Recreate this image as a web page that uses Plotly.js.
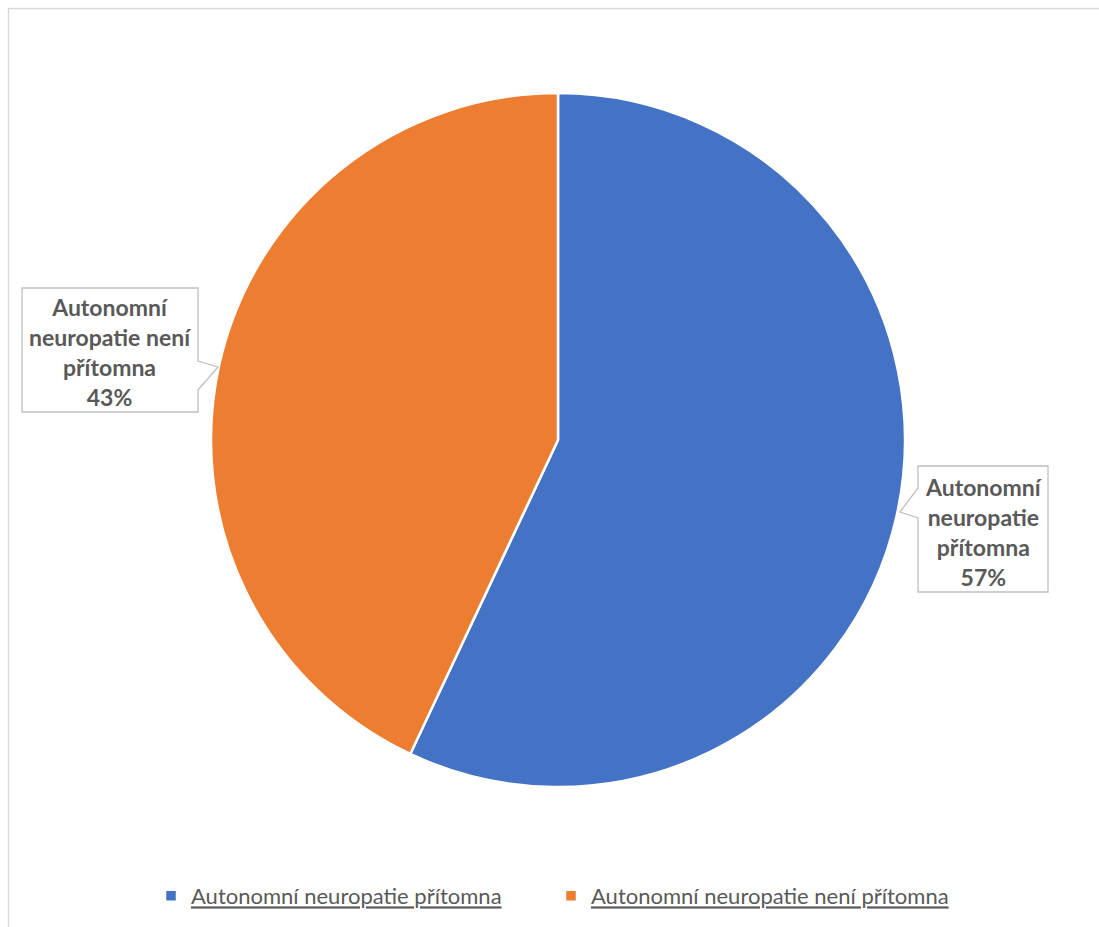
<!DOCTYPE html>
<html>
<head>
<meta charset="utf-8">
<script src="https://cdn.plot.ly/plotly-3.0.1.min.js"></script>
<style>html,body{margin:0;padding:0;background:#fff;}#chart{width:1099px;height:927px;}</style>
</head>
<body>
<div id="chart"></div>
<script>
const categories = ["Autonomní neuropatie přítomna", "Autonomní neuropatie není přítomna"];
const values = [57, 43];
const percentLabels = ["57%", "43%"];
const callouts = ["Autonomní<br>neuropatie<br>přítomna<br>57%", "Autonomní<br>neuropatie není<br>přítomna<br>43%"];
const colors = ["#4472C4", "#ED7D31"];

const W = 1099, H = 927;
const px = x => x / W;
const py = y => 1 - y / H;
function path(pts) {
  return "M" + pts.map(p => px(p[0]).toFixed(5) + "," + py(p[1]).toFixed(5)).join(" L") + " Z";
}

const trace = {
  type: "pie",
  labels: categories,
  values: values,
  sort: false,
  direction: "clockwise",
  rotation: 0,
  textinfo: "none",
  hoverinfo: "label+percent",
  marker: {colors: colors, line: {color: "#FFFFFF", width: 2.5}},
  domain: {x: [px(211), px(905)], y: [py(787), py(93)]}
};

const font = {family: "Lato, 'Noto Sans', sans-serif", color: "#595959"};

const layout = {
  width: W, height: H,
  margin: {l: 0, r: 0, t: 0, b: 0},
  paper_bgcolor: "#FFFFFF",
  showlegend: true,
  legend: {
    orientation: "h", x: px(151), xanchor: "left", y: py(896), yanchor: "middle",
    font: Object.assign({}, font, {size: 22, lineposition: "under"}),
    itemwidth: 30, entrywidth: 355, entrywidthmode: "pixels", tracegroupgap: 0
  },
  shapes: [
    {type: "rect", xref: "paper", yref: "paper", x0: px(8.5), x1: 1.05, y0: -0.05, y1: py(8.5),
     line: {color: "#D9D9D9", width: 1.5}, fillcolor: "rgba(0,0,0,0)", layer: "below"},
    {type: "path", xref: "paper", yref: "paper",
     path: path([[22,288],[198,288],[198,361],[218,367],[198,390],[198,412],[22,412]]),
     line: {color: "#BFBFBF", width: 1.3}, fillcolor: "#FFFFFF", layer: "above"},
    {type: "path", xref: "paper", yref: "paper",
     path: path([[918,466],[1048,466],[1048,592],[918,592],[918,518],[900,512],[918,488]]),
     line: {color: "#BFBFBF", width: 1.3}, fillcolor: "#FFFFFF", layer: "above"}
  ],
  annotations: [
    {xref: "paper", yref: "paper", x: px(110), y: py(352), xanchor: "center", yanchor: "middle",
     showarrow: false, text: "<b>" + callouts[1] + "</b>", align: "center",
     font: Object.assign({}, font, {size: 23})},
    {xref: "paper", yref: "paper", x: px(983), y: py(532), xanchor: "center", yanchor: "middle",
     showarrow: false, text: "<b>" + callouts[0] + "</b>", align: "center",
     font: Object.assign({}, font, {size: 23})}
  ]
};

Plotly.newPlot("chart", [trace], layout, {displayModeBar: false, staticPlot: true});
</script>
</body>
</html>
